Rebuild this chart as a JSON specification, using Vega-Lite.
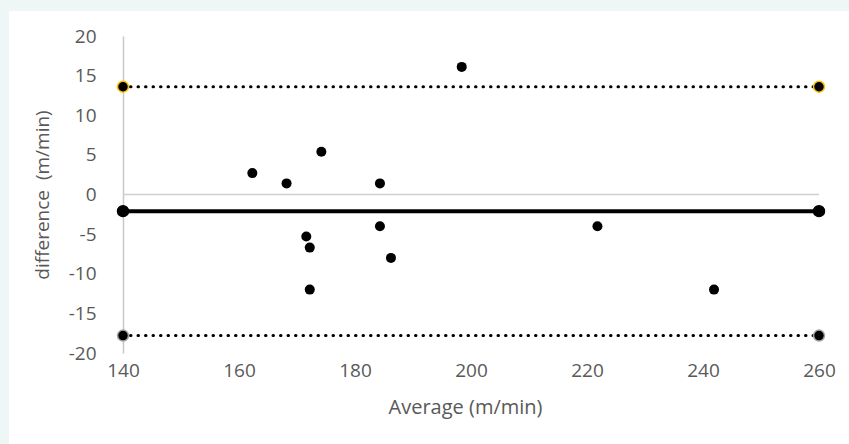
{
  "$schema": "https://vega.github.io/schema/vega-lite/v6.json",
  "width": 840,
  "height": 433,
  "autosize": {"type": "none"},
  "padding": {"left": 9, "top": 11, "right": 0, "bottom": 0},
  "background": "#eef7f6",
  "config": {
    "view": {"fill": "white", "stroke": null},
    "font": "Open Sans"
  },
  "datasets": {
    "points": [
      {"average": 162.3, "difference": 2.7},
      {"average": 168.2, "difference": 1.4},
      {"average": 174.2, "difference": 5.4},
      {"average": 184.3, "difference": 1.4},
      {"average": 198.4, "difference": 16.1},
      {"average": 171.6, "difference": -5.3},
      {"average": 172.2, "difference": -6.7},
      {"average": 172.2, "difference": -12.0},
      {"average": 184.3, "difference": -4.0},
      {"average": 186.2, "difference": -8.0},
      {"average": 221.8, "difference": -4.0},
      {"average": 241.9, "difference": -12.0}
    ],
    "lines": [
      {"series": "mean", "average": 140, "difference": -2.1},
      {"series": "mean", "average": 260, "difference": -2.1},
      {"series": "upper", "average": 140, "difference": 13.6},
      {"series": "upper", "average": 260, "difference": 13.6},
      {"series": "lower", "average": 140, "difference": -17.8},
      {"series": "lower", "average": 260, "difference": -17.8}
    ],
    "zero": [
      {"start": 140, "end": 260, "value": 0}
    ]
  },
  "layer": [
    {
      "data": {"name": "zero"},
      "mark": {"type": "rule", "color": "#d0d0d0", "strokeWidth": 1.5},
      "encoding": {
        "x": {
          "field": "start", "type": "quantitative",
          "scale": {"domain": [140, 260], "range": [114, 810], "nice": false, "zero": false},
          "axis": {
            "orient": "bottom", "offset": -91,
            "values": [140, 160, 180, 200, 220, 240, 260],
            "labelExpr": "'' + datum.value", "labelFlush": false,
            "domain": false, "ticks": false, "grid": false,
            "labelFontSize": 19, "labelColor": "#595959", "labelPadding": 8,
            "title": "Average (m/min)", "titleFontSize": 20, "titleColor": "#595959",
            "titleFontWeight": "normal", "titlePadding": 17, "titleX": 456
          }
        },
        "x2": {"field": "end"},
        "y": {
          "field": "value", "type": "quantitative",
          "scale": {"domain": [-20, 20], "range": [342, 25], "nice": false, "zero": false},
          "axis": {
            "orient": "left", "offset": -114,
            "values": [-20, -15, -10, -5, 0, 5, 10, 15, 20],
            "labelExpr": "'' + datum.value", "labelFlush": false,
            "domain": true, "domainColor": "#c8c8c8", "domainWidth": 1.5,
            "ticks": false, "grid": false,
            "labelFontSize": 19, "labelColor": "#595959", "labelPadding": 27,
            "title": "difference\u00a0 (m/min)", "titleFontSize": 19, "titleColor": "#595959",
            "titleFontWeight": "normal", "titlePadding": 16
          }
        }
      }
    },
    {
      "data": {"name": "lines"},
      "transform": [{"filter": "datum.series !== 'mean'"}],
      "mark": {"type": "line", "color": "black", "strokeWidth": 3, "strokeDash": [0.5, 7], "strokeCap": "round"},
      "encoding": {
        "x": {"field": "average", "type": "quantitative"},
        "y": {"field": "difference", "type": "quantitative"},
        "detail": {"field": "series"}
      }
    },
    {
      "data": {"name": "lines"},
      "transform": [{"filter": "datum.series === 'mean'"}],
      "mark": {"type": "line", "color": "black", "strokeWidth": 4},
      "encoding": {
        "x": {"field": "average", "type": "quantitative"},
        "y": {"field": "difference", "type": "quantitative"}
      }
    },
    {
      "data": {"name": "points"},
      "mark": {"type": "circle", "color": "black", "size": 100, "opacity": 1},
      "encoding": {
        "x": {"field": "average", "type": "quantitative"},
        "y": {"field": "difference", "type": "quantitative"}
      }
    },
    {
      "data": {"name": "lines"},
      "mark": {"type": "point", "shape": "circle", "filled": false, "fill": "black", "fillOpacity": 1, "strokeWidth": 1.5, "size": 120, "opacity": 1},
      "encoding": {
        "x": {"field": "average", "type": "quantitative"},
        "y": {"field": "difference", "type": "quantitative"},
        "stroke": {
          "field": "series", "type": "nominal",
          "scale": {"domain": ["mean", "upper", "lower"], "range": ["black", "#ffc000", "#a5a5a5"]},
          "legend": null
        }
      }
    }
  ]
}
